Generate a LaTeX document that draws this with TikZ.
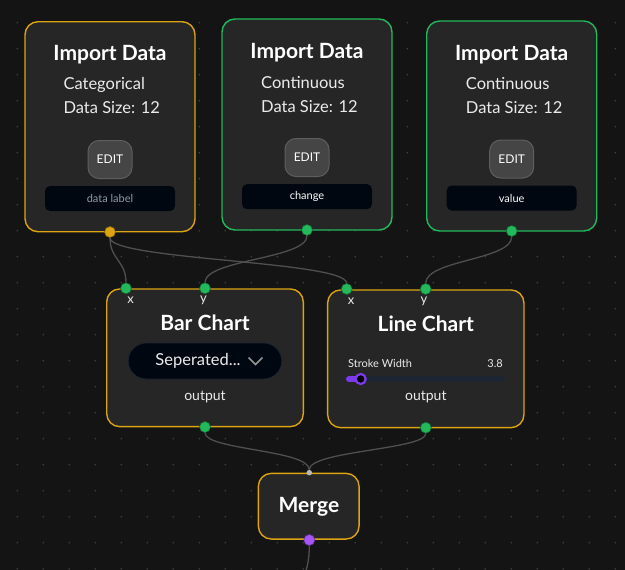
\documentclass[tikz,border=0pt]{standalone}
\usepackage{fontspec}
\setmainfont{Lato}
\usetikzlibrary{positioning}

\definecolor{canvas}{HTML}{141414}
\definecolor{panel}{HTML}{262626}
\definecolor{amber}{HTML}{DCA412}
\definecolor{leaf}{HTML}{23B85B}
\definecolor{wire}{HTML}{4F4F4F}
\definecolor{gridc}{HTML}{3E3E3E}
\definecolor{ink}{HTML}{010710}
\definecolor{violet}{HTML}{7C3AED}
\definecolor{lilac}{HTML}{A855F7}
\definecolor{tagdim}{HTML}{8E9CA8}
\definecolor{track}{HTML}{1E2532}

\tikzset{
    card/.style={draw, line width=1.4pt, rounded corners=13pt, fill=panel, inner sep=0pt},
    title/.style={text=white, font=\bfseries\fontsize{21}{25}\selectfont},
    body/.style={text=white!92!black, font=\fontsize{16.5}{19}\selectfont, inner sep=0pt},
    small/.style={text=white!92!black, font=\fontsize{13}{15}\selectfont, inner sep=0pt},
    editbtn/.style={draw=white!37!black, fill=white!27!black, line width=1pt, rounded corners=11pt,
        minimum width=44, minimum height=38, text=white, font=\fontsize{12}{14}\selectfont},
    tagbox/.style={fill=ink, rounded corners=5pt, minimum width=130, minimum height=25,
        font=\fontsize{11}{13}\selectfont},
    port/.style={circle, fill=leaf, draw=leaf!55!black, line width=0.6pt, inner sep=0pt, minimum size=11},
    wire/.style={draw=wire, line width=1.3pt},
}

\begin{document}
\begin{tikzpicture}[x=1pt, y=-1pt]
    \useasboundingbox (0,0) rectangle (625,570);
    \fill [canvas] (0,0) rectangle (625,570);
    \clip (0,0) rectangle (625,570);

    % dotted canvas
    \foreach \i in {0,...,23}
        \foreach \j in {0,...,21}
            \fill [gridc] (17.3+26*\i, 22.7+26*\j) circle (0.9);

    % import nodes
    \node (imp1) [card, draw=amber, minimum width=170, minimum height=210] at (110,126.7) {};
    \node (imp2) [card, draw=leaf, minimum width=170, minimum height=211] at (307,124.5) {};
    \node (imp3) [card, draw=leaf, minimum width=170, minimum height=210] at (511.7,126) {};

    \node (imp1title) [title] at (110,54.5) {Import Data};
    \node (imp1kind) [body, anchor=west] at (63.3,85) {Categorical};
    \node (imp1size) [body, anchor=west] at (63.3,108) {Data Size: 12};
    \node (imp1edit) [editbtn] at (110,159.5) {EDIT};
    \node (imp1tag) [tagbox, text=tagdim] at (110,198.5) {data label};

    \node (imp2title) [title] at (307,52.5) {Import Data};
    \node (imp2kind) [body, anchor=west] at (261,83) {Continuous};
    \node (imp2size) [body, anchor=west] at (261,106.5) {Data Size: 12};
    \node (imp2edit) [editbtn] at (307,157.5) {EDIT};
    \node (imp2tag) [tagbox, text=white] at (307,196.7) {change};

    \node (imp3title) [title] at (511.7,54.5) {Import Data};
    \node (imp3kind) [body, anchor=west] at (465.7,84) {Continuous};
    \node (imp3size) [body, anchor=west] at (465.7,108) {Data Size: 12};
    \node (imp3edit) [editbtn] at (511.7,159) {EDIT};
    \node (imp3tag) [tagbox, text=white] at (511.7,198) {value};

    % chart nodes
    \node (bar) [card, draw=amber, minimum width=196.6, minimum height=137.7] at (205,357.8) {};
    \node (line) [card, draw=amber, minimum width=196.3, minimum height=137.7] at (425.8,358.8) {};

    \node (bartitle) [title] at (205,323.2) {Bar Chart};
    \node (barmode) [fill=ink, draw=track, line width=0.8pt, rounded corners=18pt,
        minimum width=153.7, minimum height=36] at (205,361) {};
    \node (barmodetext) [body] at (198,361) {Seperated...};
    \draw [white!58!black, line width=1.5pt] (248.5,357.5) -- (255.5,364.5) -- (262.5,357.5);
    \node (barouttext) [small, font=\fontsize{14}{16}\selectfont] at (205,396.7) {output};

    \node (linetitle) [title] at (425.8,323.8) {Line Chart};
    \node (strokelabel) [small, anchor=west, font=\fontsize{11}{13}\selectfont] at (348,363.3) {Stroke Width};
    \node (strokevalue) [small, anchor=east, font=\fontsize{11}{13}\selectfont] at (503,363.3) {3.8};
    \draw [track, line width=6pt, line cap=round] (349,379) -- (502,379);
    \draw [violet, line width=6pt, line cap=round] (349,379) -- (360.7,379);
    \node (thumb) [circle, fill=black, draw=violet, line width=2.2pt, inner sep=0pt, minimum size=10] at (360.7,379) {};
    \node (lineouttext) [small, font=\fontsize{14}{16}\selectfont] at (425.8,397.3) {output};

    % merge node
    \node (merge) [card, draw=amber, minimum width=100.7, minimum height=65.7] at (308.7,506.2) {};
    \node (mergetitle) [title] at (309,507) {Merge};

    % handles
    \node (imp1out) [port, fill=amber, draw=amber!60!black] at (110,232) {};
    \node (imp2out) [port] at (307,230) {};
    \node (imp3out) [port] at (511.7,231) {};
    \node (barx) [port] at (126,288.3) {};
    \node (bary) [port] at (205,288.3) {};
    \node (linex) [port] at (346.7,289) {};
    \node (liney) [port] at (425.7,289) {};
    \node (barout) [port] at (205,427) {};
    \node (lineout) [port] at (425.8,427.7) {};
    \node (mergein) [circle, fill=white!72!black, inner sep=0pt, minimum size=5.5] at (309.3,472.7) {};
    \node (mergeout) [port, fill=lilac, draw=lilac!60!black] at (309.3,540) {};
    \coordinate (tail) at (298,615);

    \node (barxlabel) [small] at (130.5,300) {x};
    \node (barylabel) [small] at (203.5,300) {y};
    \node (linexlabel) [small] at (351,301) {x};
    \node (lineylabel) [small] at (424,301) {y};

    % connections
    \draw [wire] (imp1out) .. controls +(0,28) and +(0,-28) .. (barx);
    \draw [wire] (imp1out) .. controls +(0,28) and +(0,-28) .. (linex);
    \draw [wire] (imp2out) .. controls +(0,29) and +(0,-29) .. (bary);
    \draw [wire] (imp3out) .. controls +(0,29) and +(0,-29) .. (liney);
    \draw [wire] (barout) .. controls +(0,23) and +(0,-23) .. (mergein);
    \draw [wire] (lineout) .. controls +(0,22) and +(0,-22) .. (mergein);
    \draw [wire] (mergeout) .. controls +(0,37) and +(0,-37) .. (tail);
\end{tikzpicture}
\end{document}
